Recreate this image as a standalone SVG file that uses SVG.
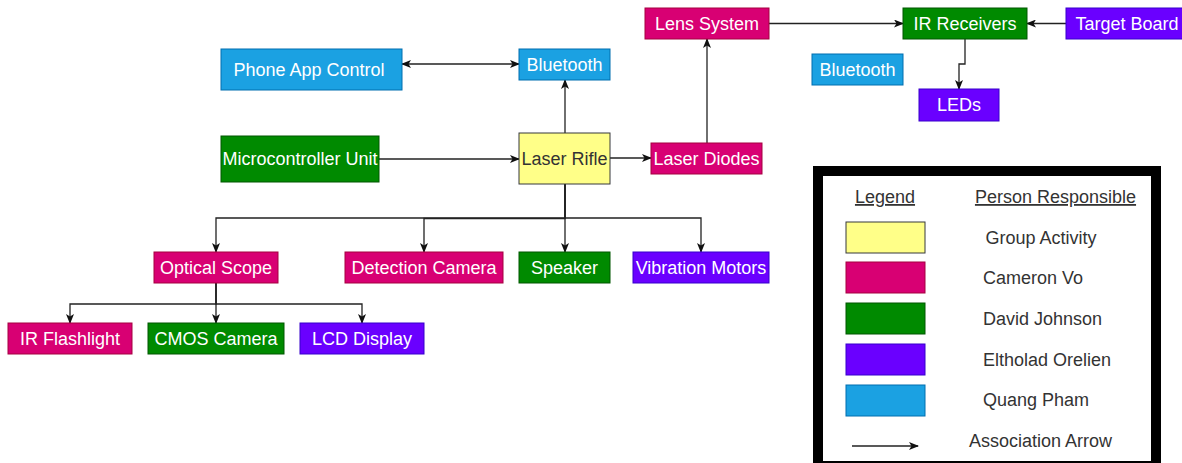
<svg xmlns="http://www.w3.org/2000/svg" width="1182" height="463" viewBox="0 0 1182 463">
<style>
text{font-family:"Liberation Sans",Arial,sans-serif;font-size:18px}
.n text{fill:#ffffff;text-anchor:middle}
.blue{fill:#1ba1e2;stroke:#006eaf}
.green{fill:#008a00;stroke:#005700}
.pink{fill:#d80073;stroke:#a50040}
.purple{fill:#6a00ff;stroke:#3700cc}
.yellow{fill:#ffff88;stroke:#36393d}
.c path{fill:none;stroke:#222;stroke-width:1.3}
.lg{fill:#333333}
</style>
<defs>
<marker id="ah" viewBox="0 0 10 8" refX="9" refY="4" markerWidth="10" markerHeight="8" markerUnits="userSpaceOnUse" orient="auto-start-reverse">
<path d="M0,0 L10,4 L0,8 L2.5,4 Z" fill="#111"/>
</marker>
</defs>
<rect width="1182" height="463" fill="#ffffff"/>
<g id="connectors" class="c">
<path d="M402,64 L519,64" marker-start="url(#ah)" marker-end="url(#ah)"/>
<path d="M565,133 L565,80" marker-end="url(#ah)"/>
<path d="M379,159 L519,159" marker-end="url(#ah)"/>
<path d="M610,158 L651,158" marker-end="url(#ah)"/>
<path d="M707,143 L707,39" marker-end="url(#ah)"/>
<path d="M769,23.5 L903,23.5" marker-end="url(#ah)"/>
<path d="M1066,23.5 L1027,23.5" marker-end="url(#ah)"/>
<path d="M965,39 L965,64 L959,64 L959,89" marker-end="url(#ah)"/>
<path d="M565,184 L565,252" marker-end="url(#ah)"/>
<path d="M565,184 L565,218 L216,218 L216,252" marker-end="url(#ah)"/>
<path d="M565,184 L565,218.5 L424,218.5 L424,252" marker-end="url(#ah)"/>
<path d="M565,184 L565,218 L701,218 L701,252" marker-end="url(#ah)"/>
<path d="M216,283 L216,323" marker-end="url(#ah)"/>
<path d="M216,283 L216,304 L70,304 L70,323" marker-end="url(#ah)"/>
<path d="M216,283 L216,304 L362,304 L362,323" marker-end="url(#ah)"/>
</g>
<g id="phone-app" class="n"><rect class="blue" x="221" y="49" width="181" height="41"/><text x="309" y="76">Phone App Control</text></g>
<g id="bluetooth-left" class="n"><rect class="blue" x="519" y="49" width="91" height="31"/><text x="564.5" y="71">Bluetooth</text></g>
<g id="microcontroller" class="n"><rect class="green" x="221" y="136" width="158" height="46"/><text x="300" y="165">Microcontroller Unit</text></g>
<g id="laser-rifle" class="n"><rect class="yellow" x="519" y="133" width="91" height="51"/><text x="564.5" y="165" style="fill:#333333">Laser Rifle</text></g>
<g id="laser-diodes" class="n"><rect class="pink" x="651" y="143" width="111" height="31"/><text x="706.5" y="165">Laser Diodes</text></g>
<g id="lens-system" class="n"><rect class="pink" x="645" y="8" width="124" height="31"/><text x="707" y="30">Lens System</text></g>
<g id="ir-receivers" class="n"><rect class="green" x="903" y="8" width="124" height="31"/><text x="965" y="30">IR Receivers</text></g>
<g id="target-board" class="n"><rect class="purple" x="1066" y="8" width="122" height="31"/><text x="1127" y="30">Target Board</text></g>
<g id="bluetooth-right" class="n"><rect class="blue" x="812" y="54" width="91" height="31"/><text x="857.5" y="76">Bluetooth</text></g>
<g id="leds" class="n"><rect class="purple" x="919" y="89" width="80" height="32"/><text x="959" y="111">LEDs</text></g>
<g id="optical-scope" class="n"><rect class="pink" x="154" y="252" width="124" height="31"/><text x="216" y="274">Optical Scope</text></g>
<g id="detection-camera" class="n"><rect class="pink" x="345" y="252" width="158" height="31"/><text x="424" y="274">Detection Camera</text></g>
<g id="speaker" class="n"><rect class="green" x="519" y="252" width="91" height="31"/><text x="564.5" y="274">Speaker</text></g>
<g id="vibration-motors" class="n"><rect class="purple" x="633" y="252" width="136" height="31"/><text x="701" y="274">Vibration Motors</text></g>
<g id="ir-flashlight" class="n"><rect class="pink" x="8" y="323" width="124" height="31"/><text x="70" y="345">IR Flashlight</text></g>
<g id="cmos-camera" class="n"><rect class="green" x="148" y="323" width="136" height="31"/><text x="216" y="345">CMOS Camera</text></g>
<g id="lcd-display" class="n"><rect class="purple" x="300" y="323" width="124" height="31"/><text x="362" y="345">LCD Display</text></g>
<g id="legend">
<rect x="818" y="171" width="338" height="295" fill="#ffffff" stroke="#000000" stroke-width="10"/>
<text class="lg" x="885" y="203" text-anchor="middle" text-decoration="underline">Legend</text>
<text class="lg" x="1055.5" y="203" text-anchor="middle" text-decoration="underline">Person Responsible</text>
<rect class="yellow" x="846" y="222" width="79" height="31"/>
<rect class="pink" x="846" y="262" width="79" height="31"/>
<rect class="green" x="846" y="303" width="79" height="31"/>
<rect class="purple" x="846" y="344" width="79" height="31"/>
<rect class="blue" x="846" y="385" width="79" height="31"/>
<text class="lg" x="985.5" y="244">Group Activity</text>
<text class="lg" x="983" y="284">Cameron Vo</text>
<text class="lg" x="983" y="325">David Johnson</text>
<text class="lg" x="983" y="366">Eltholad Orelien</text>
<text class="lg" x="983" y="406">Quang Pham</text>
<text class="lg" x="969" y="447">Association Arrow</text>
<path d="M852,446 L918,446" stroke="#222" stroke-width="1.3" fill="none" marker-end="url(#ah)"/>
</g>
</svg>
